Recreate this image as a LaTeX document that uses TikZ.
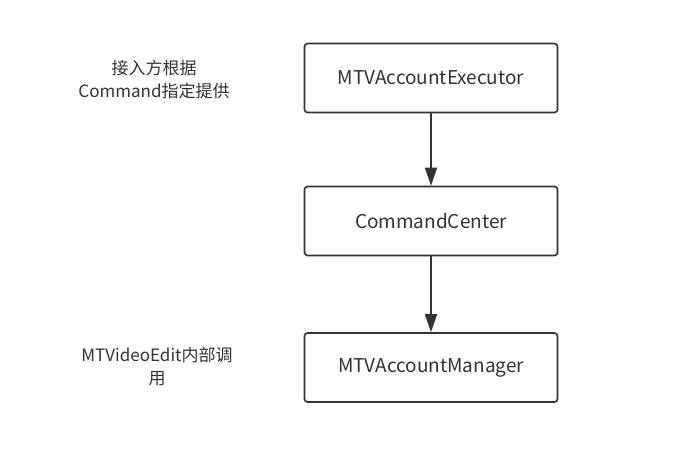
\documentclass[tikz,border=0pt]{standalone}
\usepackage{fontspec}
\setmainfont{Noto Sans CJK SC}
\usetikzlibrary{arrows.meta}
\definecolor{ink}{HTML}{333333}

\begin{document}
\begin{tikzpicture}
[>={Triangle[length=18pt, width=12pt]}, x=1pt, y=-1pt, font=\fontsize{17}{23}\selectfont, text=ink,
box/.style={draw=ink, line width=1.6pt, rounded corners=3pt, minimum width=253pt, minimum height=69pt, inner sep=0, font=\fontsize{19}{23}\selectfont},
note/.style={align=center, inner sep=0}]
\useasboundingbox (0, 0) rectangle (687, 449);
\node (exec) [box] at (431, 78) {MTVAccountExecutor};
\node (center) [box] at (431, 221) {CommandCenter};
\node (manager) [box] at (431, 367.5) {MTVAccountManager};
\node (n1) [note] at (154, 80) {接入方根据\\Command指定提供};
\node (n2) [note] at (157, 367) {MTVideoEdit内部调\\用};
\path (exec) edge [->, draw=ink, line width=1.6pt] (center);
\path (center) edge [->, draw=ink, line width=1.6pt] (manager);
\end{tikzpicture}
\end{document}
